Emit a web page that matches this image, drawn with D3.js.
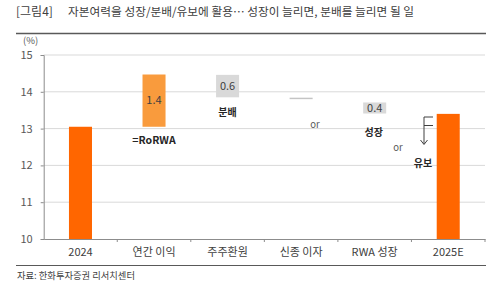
<!DOCTYPE html>
<html>
<head>
<meta charset="utf-8">
<script src="https://cdn.jsdelivr.net/npm/d3@7"></script>
<style>
  body { margin: 0; background: #fff; }
  svg { display: block; font-family: "Noto Sans CJK KR", "Noto Sans", sans-serif; }
</style>
</head>
<body>
<div id="chart"></div>
<script>
// waterfall: 2024 CET1 -> 2025E
const categories = ["2024", "연간 이익", "주주환원", "신종 이자", "RWA 성장", "2025E"];
const barStart = [10, 13.05, 14.46, 13.84, 13.71, 10];
const barEnd = [13.05, 14.47, 13.85, 13.80, 13.41, 13.4];
const barLabels = ["", "1.4", "0.6", "", "0.4", ""];
const barKinds = ["total", "up", "down", "thin", "down", "total"];
const yTicks = [10, 11, 12, 13, 14, 15];

const W = 500, H = 293;
const margin = {top: 55, right: 15, bottom: 54, left: 43.7};
const width = W - margin.left - margin.right;
const height = H - margin.top - margin.bottom;

const svg = d3.select("#chart").append("svg")
  .attr("width", W)
  .attr("height", H);

// title + rules
svg.append("text")
  .attr("x", 16).attr("y", 16)
  .attr("font-size", 12).attr("fill", "#404040")
  .text("[그림4]");
svg.append("text")
  .attr("x", 68).attr("y", 16)
  .attr("font-size", 11.7).attr("fill", "#404040")
  .text("자본여력을 성장/분배/유보에 활용… 성장이 늘리면, 분배를 늘리면 될 일");
svg.append("line")
  .attr("x1", 16).attr("x2", 486).attr("y1", 33.5).attr("y2", 33.5)
  .attr("stroke", "#595959").attr("stroke-width", 1.5);
svg.append("line")
  .attr("x1", 16).attr("x2", 486).attr("y1", 265.5).attr("y2", 265.5)
  .attr("stroke", "#595959").attr("stroke-width", 1.2);
svg.append("text")
  .attr("x", 17).attr("y", 279)
  .attr("font-size", 9.3).attr("fill", "#404040")
  .text("자료: 한화투자증권 리서치센터");
svg.append("text")
  .attr("x", 23).attr("y", 44)
  .attr("font-size", 9.5).attr("fill", "#595959")
  .text("(%)");

const g = svg.append("g")
  .attr("transform", `translate(${margin.left},${margin.top})`);

const x = d3.scaleBand()
  .domain(categories)
  .range([0, width])
  .paddingInner(0.687)
  .paddingOuter(0.3435);

const y = d3.scaleLinear()
  .domain([10, 15])
  .range([height, 0]);

// gridlines
g.append("g")
  .selectAll("line")
  .data(yTicks.slice(1))
  .enter().append("line")
  .attr("x1", 0).attr("x2", width)
  .attr("y1", d => y(d)).attr("y2", d => y(d))
  .attr("stroke", "#d9d9d9").attr("stroke-width", 1);

// y axis
const yAxis = g.append("g")
  .call(d3.axisLeft(y).tickValues(yTicks).tickSize(3).tickPadding(8).tickFormat(d3.format("d")));
yAxis.select(".domain").attr("stroke", "#8c8c8c");
yAxis.selectAll(".tick line").attr("stroke", "#8c8c8c");
yAxis.selectAll("text").attr("font-size", 11).attr("fill", "#595959")
  .style("font-family", "'Noto Sans CJK KR', sans-serif");

// x axis with ticks at band edges
const xAxis = g.append("g")
  .attr("transform", `translate(0,${height})`)
  .call(d3.axisBottom(x).tickSize(0).tickPadding(9));
xAxis.select(".domain").attr("stroke", "#8c8c8c");
xAxis.selectAll("text").attr("font-size", 11).attr("fill", "#404040")
  .style("font-family", "'Noto Sans CJK KR', sans-serif");
const edges = categories.map(c => x(c) - x.step() * x.paddingInner() / 2).concat([width]);
g.append("g").selectAll("line")
  .data(edges.slice(1))
  .enter().append("line")
  .attr("x1", d => d).attr("x2", d => d)
  .attr("y1", height).attr("y2", height + 3)
  .attr("stroke", "#8c8c8c");

// bars
const fillFor = k => k === "total" ? "#ff6600" : k === "up" ? "#f99b3d" : k === "thin" ? "#c4c4c4" : "#d9d9d9";
const bars = categories.map((c, i) => ({c, s: barStart[i], e: barEnd[i], label: barLabels[i], kind: barKinds[i]}));

g.selectAll(".bar")
  .data(bars)
  .enter().append("rect")
  .attr("class", "bar")
  .attr("x", d => x(d.c))
  .attr("width", x.bandwidth())
  .attr("y", d => y(Math.max(d.s, d.e)))
  .attr("height", d => Math.abs(y(d.s) - y(d.e)))
  .attr("fill", d => fillFor(d.kind));

g.selectAll(".bar-label")
  .data(bars.filter(d => d.label))
  .enter().append("text")
  .attr("class", "bar-label")
  .attr("x", d => x(d.c) + x.bandwidth() / 2)
  .attr("y", d => (y(d.s) + y(d.e)) / 2)
  .attr("dy", "0.35em")
  .attr("text-anchor", "middle")
  .attr("font-size", 11).attr("fill", "#404040")
  .text(d => d.label);

// annotations
const cx = c => margin.left + x(c) + x.bandwidth() / 2;
const note = (tx, ty, txt, opts) => svg.append("text")
  .attr("x", tx).attr("y", ty).attr("dy", "0.35em")
  .attr("text-anchor", "middle")
  .attr("font-size", opts.size).attr("font-weight", opts.bold ? "bold" : "normal")
  .attr("fill", opts.color)
  .text(txt);

note(cx("연간 이익"), 140, "=RoRWA", {size: 10.5, bold: true, color: "#262626"});
note(cx("주주환원"), 112, "분배", {size: 10, bold: true, color: "#262626"});
note(315, 125, "or", {size: 9.5, color: "#595959"});
note(cx("RWA 성장") - 1, 132, "성장", {size: 10, bold: true, color: "#262626"});
note(398, 148, "or", {size: 9.5, color: "#595959"});
note(423, 163, "유보", {size: 10, bold: true, color: "#262626"});

// bracket arrow toward 유보
const arr = svg.append("g").attr("stroke", "#404040").attr("fill", "none").attr("stroke-width", 1);
arr.append("path").attr("d", "M424,117 L424,144 M420.5,140 L424,144.5 L427.5,140");
arr.append("path").attr("d", "M424,117 L433,117 M424,125.5 L433,125.5");
</script>
</body>
</html>
